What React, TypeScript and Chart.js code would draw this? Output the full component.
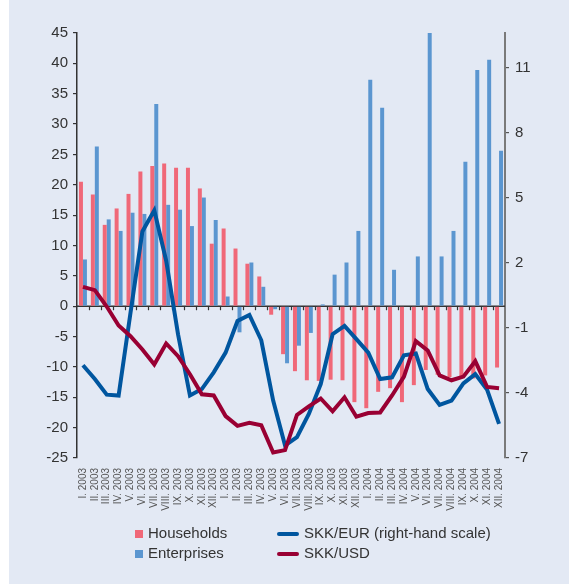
import React, { useEffect, useRef } from "react";
import { Chart, registerables } from "chart.js";

Chart.register(...registerables);

const months = ["I.", "II.", "III.", "IV.", "V.", "VI.", "VII.", "VIII.", "IX.", "X.", "XI.", "XII."];
const yearLabels = ["2003", "2003", "2004"];
const categories: string[] = [];
yearLabels.forEach((y) => months.forEach((m) => categories.push(m + " " + y)));

const households = [
  20.5, 18.4, 13.4, 16.1, 18.5, 22.2, 23.1, 23.5, 22.8, 22.8, 19.4, 10.3,
  12.8, 9.5, 7.0, 4.9, -1.4, -7.9, -10.7, -12.2, -12.3, -12.1, -12.2, -15.8,
  -16.8, -14.1, -13.5, -15.8, -13.0, -10.5, -11.3, -11.7, -11.7, -11.9, -11.4, -10.1,
];
const enterprises = [
  7.7, 26.3, 14.3, 12.4, 15.4, 15.2, 33.3, 16.7, 15.9, 13.2, 17.9, 14.2,
  1.6, -4.3, 7.2, 3.2, -0.5, -9.4, -6.5, -4.4, 0.3, 5.2, 7.2, 12.4,
  37.3, 32.7, 6.0, 0, 8.2, 45.0, 8.2, 12.4, 23.8, 38.9, 40.6, 25.6,
];
const skkEur = [
  -2.72, -3.36, -4.08, -4.12, -0.3, 3.45, 4.42, 2.1, -1.3, -4.12, -3.82, -3.05,
  -2.14, -0.68, -0.4, -1.57, -4.35, -6.42, -6.04, -4.97, -3.59, -1.29, -0.91, -1.52,
  -2.14, -3.36, -3.28, -2.26, -2.18, -3.82, -4.55, -4.35, -3.56, -3.13, -3.86, -5.43,
];
const skkUsd = [
  3.19, 2.64, -0.05, -3.17, -4.93, -7.12, -9.59, -6.14, -8.22, -11.2, -14.5, -14.7,
  -18.1, -19.7, -19.2, -19.6, -24.1, -23.7, -17.9, -16.5, -15.2, -17.3, -15.0, -18.2,
  -17.6, -17.5, -14.7, -11.6, -5.76, -7.29, -11.4, -12.2, -11.6, -9.05, -13.3, -13.5,
];
const leftTicks = { min: -25, max: 45, step: 5 };
const rightTickValues = [-7, -4, -1, 2, 5, 8, 11];
const rightRange = { min: -7, max: 12.6 };

const RED_BAR = "#F06878";
const BLUE_BAR = "#5B96D0";
const BLUE_LINE = "#00569F";
const RED_LINE = "#990033";
const BG = "#E3E9F4";
const FONT = "'Liberation Sans', Arial, sans-serif";

const legendItems = [
  { label: "Households", color: RED_BAR, type: "box", col: 0, row: 0 },
  { label: "Enterprises", color: BLUE_BAR, type: "box", col: 0, row: 1 },
  { label: "SKK/EUR (right-hand scale)", color: BLUE_LINE, type: "line", col: 1, row: 0 },
  { label: "SKK/USD", color: RED_LINE, type: "line", col: 1, row: 1 },
];

const zeroLinePlugin = {
  id: "zeroLine",
  beforeDatasetsDraw(chart: any) {
    const { ctx, chartArea, scales } = chart;
    const y0 = scales.y.getPixelForValue(0);
    const x = scales.x;
    ctx.save();
    ctx.strokeStyle = "#333";
    ctx.lineWidth = 1.5;
    ctx.beginPath();
    ctx.moveTo(chartArea.left, y0);
    ctx.lineTo(chartArea.right, y0);
    ctx.stroke();
    ctx.lineWidth = 1.2;
    const n = categories.length;
    const w = (chartArea.right - chartArea.left) / n;
    for (let i = 1; i < n; i++) {
      const px = Math.round(chartArea.left + i * w) + 0.5;
      ctx.beginPath();
      ctx.moveTo(px, y0);
      ctx.lineTo(px, y0 + 4);
      ctx.stroke();
    }
    ctx.restore();
  },
};

const legendPlugin = {
  id: "customLegend",
  afterDraw(chart: any) {
    const { ctx } = chart;
    ctx.save();
    ctx.font = "15px " + FONT;
    ctx.textBaseline = "middle";
    ctx.fillStyle = "#333";
    const colX = [126, 268];
    const rowY = [534, 554];
    legendItems.forEach((it) => {
      const x = colX[it.col];
      const y = rowY[it.row];
      if (it.type === "box") {
        ctx.fillStyle = it.color;
        ctx.fillRect(x, y - 4, 8, 8);
        ctx.fillStyle = "#333";
        ctx.fillText(it.label, x + 13, y);
      } else {
        ctx.strokeStyle = it.color;
        ctx.lineWidth = 4;
        ctx.lineCap = "round";
        ctx.beginPath();
        ctx.moveTo(x + 2, y);
        ctx.lineTo(x + 20, y);
        ctx.stroke();
        ctx.fillStyle = "#333";
        ctx.fillText(it.label, x + 27, y);
      }
    });
    ctx.restore();
  },
};

export default function App() {
  const ref = useRef<HTMLCanvasElement>(null);
  useEffect(() => {
    document.body.style.margin = "0";
    const chart = new Chart(ref.current as HTMLCanvasElement, {
      type: "bar",
      data: {
        labels: categories,
        datasets: [
          {
            type: "line",
            label: "SKK/USD",
            data: skkUsd,
            yAxisID: "y",
            borderColor: RED_LINE,
            borderWidth: 4,
            pointRadius: 0,
            tension: 0,
            order: 0,
          } as any,
          {
            type: "line",
            label: "SKK/EUR (right-hand scale)",
            data: skkEur,
            yAxisID: "y2",
            borderColor: BLUE_LINE,
            borderWidth: 4,
            pointRadius: 0,
            tension: 0,
            order: 1,
          } as any,
          {
            label: "Households",
            data: households,
            yAxisID: "y",
            backgroundColor: RED_BAR,
            barPercentage: 1,
            categoryPercentage: 0.67,
            order: 2,
          },
          {
            label: "Enterprises",
            data: enterprises,
            yAxisID: "y",
            backgroundColor: BLUE_BAR,
            barPercentage: 1,
            categoryPercentage: 0.67,
            order: 3,
          },
        ],
      },
      options: {
        animation: false,
        responsive: false,
        layout: { padding: { top: 33, left: 0, right: 0, bottom: 0 } },
        plugins: { legend: { display: false }, tooltip: { enabled: false } },
        scales: {
          x: {
            grid: { display: false },
            border: { display: false },
            ticks: {
              autoSkip: false,
              minRotation: 90,
              maxRotation: 90,
              padding: 2,
              color: "#555",
              font: { size: 10, family: FONT },
            },
            afterFit(s: any) {
              s.height = 126;
            },
          },
          y: {
            position: "left",
            min: leftTicks.min,
            max: leftTicks.max,
            ticks: {
              stepSize: leftTicks.step,
              color: "#333",
              padding: 5,
              font: { size: 15, family: FONT },
            },
            grid: { drawOnChartArea: false, drawTicks: true, tickLength: 4, color: "#333", lineWidth: 1.2 },
            border: { color: "#333", width: 1.5 },
            afterFit(s: any) {
              s.width = 68;
            },
          },
          y2: {
            position: "right",
            min: rightRange.min,
            max: rightRange.max,
            afterBuildTicks(s: any) {
              s.ticks = rightTickValues.map((v) => ({ value: v }));
            },
            ticks: {
              color: "#333",
              padding: 6,
              font: { size: 15, family: FONT },
            },
            grid: { drawOnChartArea: false, drawTicks: true, tickLength: 4, color: "#555", lineWidth: 1.2 },
            border: { color: "#7a7a7a", width: 2 },
            afterFit(s: any) {
              s.width = 64;
            },
          },
        },
      } as any,
      plugins: [zeroLinePlugin, legendPlugin],
    });
    return () => chart.destroy();
  }, []);
  return (
    <div style={{ position: "absolute", left: 0, top: 0, width: 569, height: 584, background: "#fff" }}>
      <div style={{ position: "absolute", left: 9, top: 0, width: 560, height: 584, background: BG }}>
        <canvas ref={ref} width={560} height={584} style={{ display: "block", width: 560, height: 584 }} />
      </div>
    </div>
  );
}
